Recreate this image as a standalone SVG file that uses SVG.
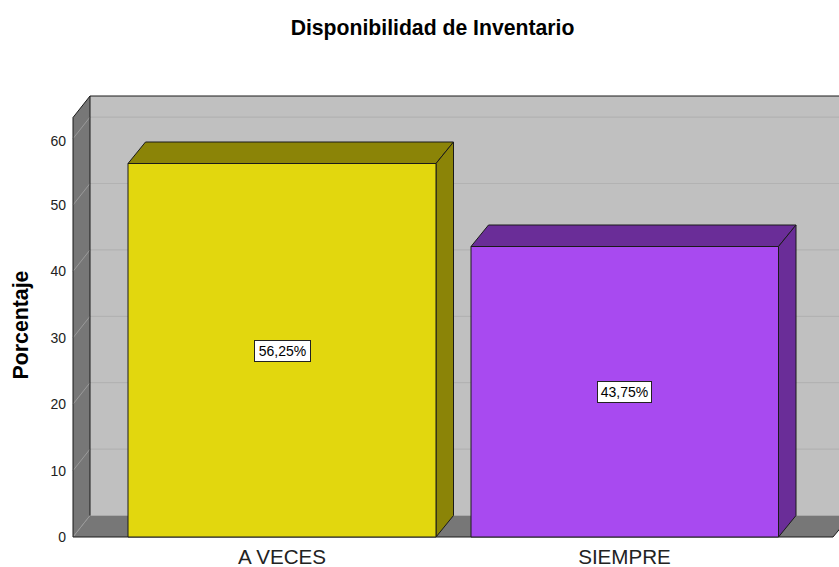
<svg xmlns="http://www.w3.org/2000/svg" width="839" height="567" viewBox="0 0 839 567">
<style>
.title{font-family:"Liberation Sans",Arial,sans-serif;font-weight:bold;font-size:21.2px;fill:#000}
.ylab{font-family:"Liberation Sans",Arial,sans-serif;font-weight:bold;font-size:21.3px;fill:#000}
.tick{font-family:"Liberation Sans",Arial,sans-serif;font-size:14px;fill:#222}
.cat{font-family:"Liberation Sans",Arial,sans-serif;font-size:20.6px;fill:#222}
.val{font-family:"Liberation Sans",Arial,sans-serif;font-size:14px;fill:#000}
.edge{stroke:#1a1a1a;stroke-width:1;stroke-linejoin:round}
.gridb{stroke:#b2b2b2;stroke-width:1.2;fill:none}
.gridl{stroke:#9a9a9a;stroke-width:1;fill:none}
.box{fill:#fff;stroke:#222;stroke-width:1}
</style>
<rect width="839" height="567" fill="#fff"/>
<text class="title" x="432.5" y="35" text-anchor="middle">Disponibilidad de Inventario</text>
<text class="ylab" transform="translate(28,325) rotate(-90)" text-anchor="middle">Porcentaje</text>
<g id="frame">
<polygon points="90,96 845,96 845,515.5 90,515.5" fill="#c0c0c0"/>
<polygon points="73,117.5 90,96 90,515.5 73,537" fill="#777777"/>
<polygon points="73,537 90,515.5 851,515.5 833,537" fill="#777777"/>
<g class="gridb">
<line x1="90" y1="449.1" x2="839" y2="449.1"/>
<line x1="90" y1="382.7" x2="839" y2="382.7"/>
<line x1="90" y1="316.3" x2="839" y2="316.3"/>
<line x1="90" y1="249.9" x2="839" y2="249.9"/>
<line x1="90" y1="183.5" x2="839" y2="183.5"/>
<line x1="90" y1="117.1" x2="839" y2="117.1"/>
</g>
<g class="gridl">
<line x1="73" y1="537" x2="90" y2="515.5"/>
<line x1="73" y1="470.6" x2="90" y2="449.1"/>
<line x1="73" y1="404.2" x2="90" y2="382.7"/>
<line x1="73" y1="337.8" x2="90" y2="316.3"/>
<line x1="73" y1="271.4" x2="90" y2="249.9"/>
<line x1="73" y1="205" x2="90" y2="183.5"/>
<line x1="73" y1="138.6" x2="90" y2="117.1"/>
</g>
<polyline class="edge" fill="none" points="73,537 73,117.5 90,96 839,96"/>
<line class="edge" x1="90" y1="96" x2="90" y2="515.5"/>
<polyline class="edge" fill="none" points="73,537 833,537 851,515.5"/>
</g>
<g id="ticks">
<text class="tick" x="66" y="542" text-anchor="end">0</text>
<text class="tick" x="66" y="475.6" text-anchor="end">10</text>
<text class="tick" x="66" y="409.2" text-anchor="end">20</text>
<text class="tick" x="66" y="342.8" text-anchor="end">30</text>
<text class="tick" x="66" y="276.4" text-anchor="end">40</text>
<text class="tick" x="66" y="210" text-anchor="end">50</text>
<text class="tick" x="66" y="146" text-anchor="end">60</text>
</g>
<g id="bar-aveces">
<polygon class="edge" points="128,163.5 145.5,142 453.5,142 436,163.5" fill="#8b8407"/>
<polygon class="edge" points="436,163.5 453.5,142 453.5,515.5 436,537" fill="#8b8407"/>
<rect class="edge" x="128" y="163.5" width="308" height="373.5" fill="#e2d70e"/>
<rect class="box" x="254.5" y="340.5" width="56" height="21"/>
<text class="val" x="282.5" y="356" text-anchor="middle">56,25%</text>
<text class="cat" x="282" y="564" text-anchor="middle">A VECES</text>
</g>
<g id="bar-siempre">
<polygon class="edge" points="471,246.5 488.5,225 796,225 778.5,246.5" fill="#6a2d98"/>
<polygon class="edge" points="778.5,246.5 796,225 796,515.5 778.5,537" fill="#6a2d98"/>
<rect class="edge" x="471" y="246.5" width="307.5" height="290.5" fill="#a84af0"/>
<rect class="box" x="597.5" y="381.5" width="54" height="21"/>
<text class="val" x="624.5" y="397" text-anchor="middle">43,75%</text>
<text class="cat" x="624.5" y="564" text-anchor="middle">SIEMPRE</text>
</g>
</svg>
